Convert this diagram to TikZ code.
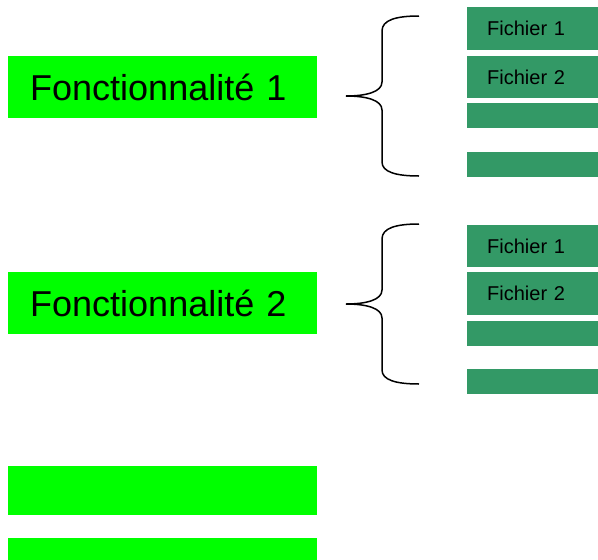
\documentclass[tikz,border=0pt]{standalone}
\usepackage{fontspec}
\setmainfont{Liberation Sans}
\usepackage{xcolor}
\definecolor{vertvif}{HTML}{00FF00}
\definecolor{vertfonce}{HTML}{339966}

\tikzset{
  fonction/.style={fill=vertvif, anchor=north west, inner sep=0pt, inner xsep=22pt,
    text width=265pt, align=left, font=\fontsize{36}{40}\selectfont},
  fichier/.style={fill=vertfonce, anchor=north west, inner sep=0pt, inner xsep=20pt,
    text width=91pt, align=left, font=\fontsize{20}{24}\selectfont},
  accolade/.style={line width=1.5pt}
}

\begin{document}
\begin{tikzpicture}[x=1pt,y=-1pt]
\useasboundingbox (0,0) rectangle (598,560);
% fonctionnalites
\node [fonction, minimum height=62pt] (fonc1) at (8,56) {Fonctionnalité 1};
\node [fonction, minimum height=62pt] (fonc2) at (8,272) {Fonctionnalité 2};
\node [fonction, minimum height=49pt] (fonc3) at (8,466) {};
\node [fonction, minimum height=22pt] (fonc4) at (8,538) {};
% fichiers
\node [fichier, minimum height=43pt] (fich11) at (467,7) {Fichier 1};
\node [fichier, minimum height=42pt] (fich12) at (467,56) {Fichier 2};
\node [fichier, minimum height=25pt] (fich13) at (467,103) {};
\node [fichier, minimum height=25pt] (fich14) at (467,152) {};
\node [fichier, minimum height=42pt] (fich21) at (467,225) {Fichier 1};
\node [fichier, minimum height=43pt] (fich22) at (467,272) {Fichier 2};
\node [fichier, minimum height=25pt] (fich23) at (467,321) {};
\node [fichier, minimum height=25pt] (fich24) at (467,369) {};
% accolades
\coordinate (pointe1) at (346,96);
\draw [accolade] (419,16) .. controls (396,16) and (382,20) .. (382,31) -- (382,82)
  .. controls (382,92) and (366,96) .. (pointe1)
  .. controls (366,96) and (382,100) .. (382,110) -- (382,162)
  .. controls (382,172) and (396,176) .. (419,176);
\coordinate (pointe2) at (346,304);
\draw [accolade] (419,224) .. controls (396,224) and (382,228) .. (382,239) -- (382,290)
  .. controls (382,300) and (366,304) .. (pointe2)
  .. controls (366,304) and (382,308) .. (382,318) -- (382,370)
  .. controls (382,380) and (396,384) .. (419,384);
%\draw (fonc1.east) -- (pointe1);
\end{tikzpicture}
\end{document}
